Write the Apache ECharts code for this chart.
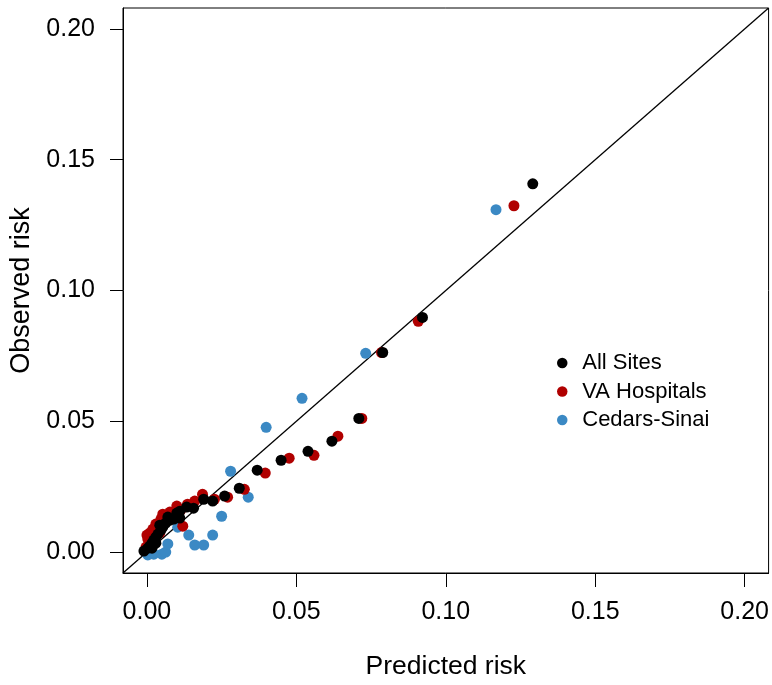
<!DOCTYPE html>
<html>
<head>
<meta charset="utf-8">
<script src="https://cdn.jsdelivr.net/npm/echarts@6/dist/echarts.min.js"></script>
<style>
html,body{margin:0;padding:0;background:#fff;}
#chart{width:772px;height:685px;}
</style>
</head>
<body>
<div id="chart"></div>
<script>
// ---- data ----
const seriesNames = ['All Sites', 'VA Hospitals', 'Cedars-Sinai'];
const tickValues = [0.00, 0.05, 0.10, 0.15, 0.20];

const allSitesPredicted = [-0.0010, 0.0003, 0.0010, 0.0017, 0.0017, 0.0023, 0.0030, 0.0030, 0.0037, 0.0043, 0.0047, 0.0053, 0.0063, 0.0070, 0.0077, 0.0090, 0.0100, 0.0110, 0.0110, 0.0133, 0.0156, 0.0190, 0.0220, 0.0260, 0.0309, 0.0369, 0.0449, 0.0539, 0.0619, 0.0709, 0.0789, 0.0922, 0.1291];
const allSitesObserved  = [0.0004, 0.0015, 0.0023, 0.0015, 0.0034, 0.0046, 0.0034, 0.0057, 0.0069, 0.0103, 0.0084, 0.0095, 0.0111, 0.0134, 0.0122, 0.0126, 0.0149, 0.0156, 0.0130, 0.0172, 0.0168, 0.0202, 0.0195, 0.0214, 0.0244, 0.0313, 0.0351, 0.0385, 0.0424, 0.0511, 0.0763, 0.0897, 0.1408];

const vaPredicted = [-0.0003, 0.0000, 0.0003, 0.0010, 0.0013, 0.0020, 0.0030, 0.0043, 0.0047, 0.0053, 0.0063, 0.0077, 0.0100, 0.0113, 0.0120, 0.0136, 0.0160, 0.0186, 0.0226, 0.0270, 0.0326, 0.0396, 0.0476, 0.0559, 0.0639, 0.0719, 0.0785, 0.0908, 0.1228];
const vaObserved  = [0.0019, 0.0065, 0.0050, 0.0073, 0.0031, 0.0088, 0.0107, 0.0073, 0.0126, 0.0145, 0.0126, 0.0153, 0.0176, 0.0160, 0.0099, 0.0183, 0.0195, 0.0221, 0.0202, 0.0210, 0.0240, 0.0302, 0.0359, 0.0370, 0.0443, 0.0511, 0.0763, 0.0882, 0.1324];

const cedarsPredicted = [0.0003, 0.0023, 0.0050, 0.0063, 0.0070, 0.0103, 0.0140, 0.0160, 0.0190, 0.0220, 0.0250, 0.0280, 0.0339, 0.0399, 0.0519, 0.0732, 0.1168];
const cedarsObserved  = [-0.0011, -0.0008, -0.0008, 0.0000, 0.0031, 0.0095, 0.0065, 0.0027, 0.0027, 0.0065, 0.0137, 0.0309, 0.0210, 0.0477, 0.0588, 0.0760, 0.1309];

const refLine = [-0.008, 0.208]; // identity line spans the plot region

// ---- build ----
const zip = (a, b) => a.map((v, i) => [v, b[i]]);
const colors = { all: '#000000', va: '#B00000', cedars: '#3B89C4' };
const font = '"Liberation Sans", Arial, Helvetica, sans-serif';
const tickMin = tickValues[0], tickMax = tickValues[tickValues.length - 1];
const pad = (tickMax - tickMin) * 0.04;
const fmt = v => Number(v).toFixed(2);

function axisCommon(extra) {
  return Object.assign({
    type: 'value', min: tickMin - pad, max: tickMax + pad,
    axisLine: { show: true, onZero: false, lineStyle: { color: '#000', width: 1 } },
    axisTick: { show: true, customValues: tickValues, lineStyle: { color: '#000', width: 1 } },
    axisLabel: { customValues: tickValues, color: '#000', fontSize: 25, fontFamily: font, formatter: fmt },
    splitLine: { show: false },
    nameLocation: 'middle'
  }, extra);
}

const chart = echarts.init(document.getElementById('chart'), null, { renderer: 'canvas' });
const xAx = axisCommon({
  position: 'bottom', name: 'Predicted risk', nameGap: 80,
  nameTextStyle: { color: '#000', fontSize: 26.5, fontFamily: font }
});
xAx.axisTick.length = 14;
xAx.axisLabel.margin = 27;
const yAx = axisCommon({
  position: 'left', name: 'Observed risk', nameGap: 82, nameRotate: 90,
  nameTextStyle: { color: '#000', fontSize: 27, fontFamily: font }
});
yAx.axisTick = Object.assign({}, yAx.axisTick, { length: 13 });
yAx.axisLabel = Object.assign({}, yAx.axisLabel, { margin: 28 });

chart.setOption({
  animation: false,
  backgroundColor: '#ffffff',
  grid: { left: 123, top: 8, width: 648, height: 566, show: true, borderColor: '#000', borderWidth: 1, backgroundColor: 'transparent' },
  xAxis: xAx,
  yAxis: yAx,
  legend: {
    data: seriesNames,
    orient: 'vertical',
    left: 552, top: 344,
    itemWidth: 30, itemHeight: 10.5, itemGap: 0.5,
    icon: 'circle',
    textStyle: { color: '#000', fontSize: 22, fontFamily: font, lineHeight: 28 }
  },
  series: [
    {
      type: 'line', silent: true, symbol: 'none',
      data: zip(refLine, refLine), lineStyle: { color: '#000', width: 1.3 }, z: 1
    },
    {
      name: 'Cedars-Sinai', type: 'scatter',
      symbolSize: 11, itemStyle: { color: colors.cedars, opacity: 1 }, z: 2,
      data: zip(cedarsPredicted, cedarsObserved)
    },
    {
      name: 'VA Hospitals', type: 'scatter',
      symbolSize: 11, itemStyle: { color: colors.va, opacity: 1 }, z: 3,
      data: zip(vaPredicted, vaObserved)
    },
    {
      name: 'All Sites', type: 'scatter',
      symbolSize: 11, itemStyle: { color: colors.all, opacity: 1 }, z: 4,
      data: zip(allSitesPredicted, allSitesObserved)
    }
  ]
});
</script>
</body>
</html>
